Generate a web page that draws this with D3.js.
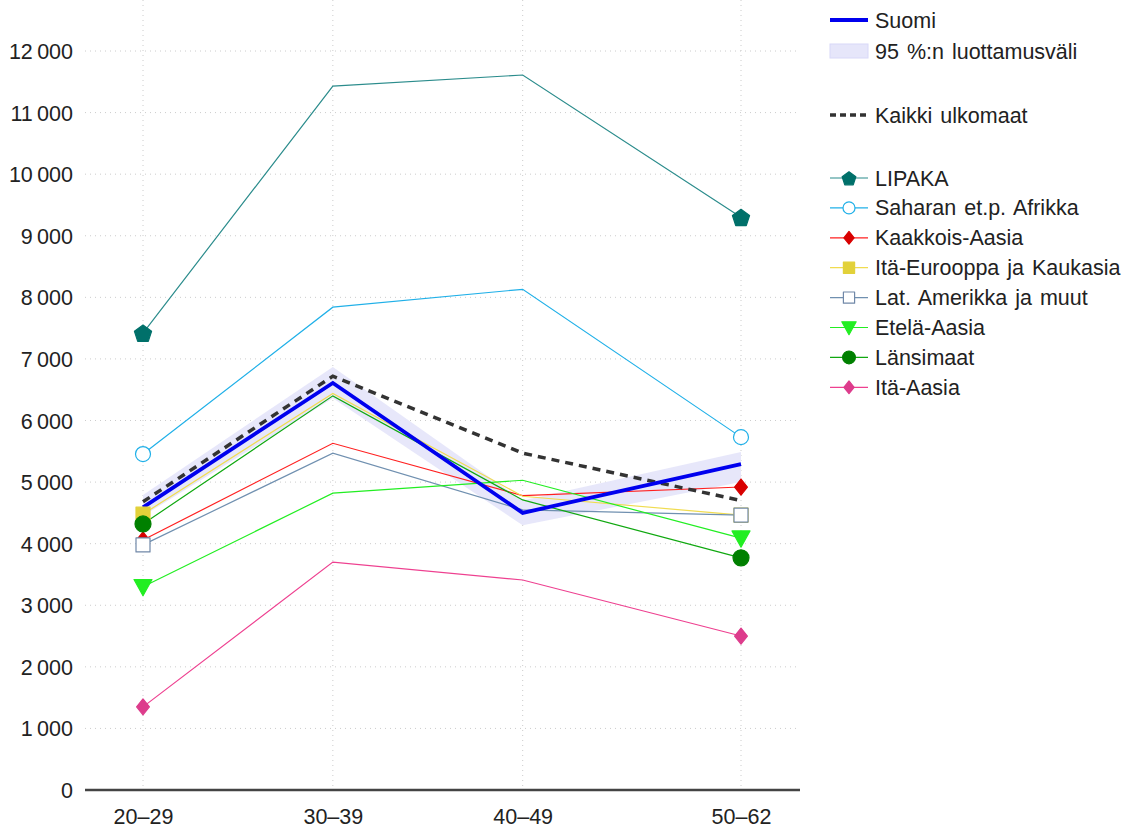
<!DOCTYPE html>
<html><head><meta charset="utf-8">
<script src="https://cdn.jsdelivr.net/npm/d3@7"></script>
<style>
body{margin:0;background:#fff;}
text{font-family:"Liberation Sans",Arial,sans-serif;fill:#222;}
</style></head>
<body><svg id="c" width="1141" height="832"></svg>
<script>
// ---- data ----
const ageGroups = ["20–29","30–39","40–49","50–62"];
const ageMid = [24.5, 34.5, 44.5, 56];
const yTickValues = [0,1000,2000,3000,4000,5000,6000,7000,8000,9000,10000,11000,12000];

const suomi = [4590, 6610, 4500, 5290];
const ciLow = [4450, 6360, 4300, 5000];
const ciHigh = [4790, 6870, 4700, 5490];
const kaikki = [4680, 6720, 5470, 4700];

const seriesNames = ["LIPAKA","Saharan et.p. Afrikka","Kaakkois-Aasia","Itä-Eurooppa ja Kaukasia","Lat. Amerikka ja muut","Etelä-Aasia","Länsimaat","Itä-Aasia"];
const lipaka   = [7420, 11430, 11610, 9300];
const saharan  = [5455, 7840, 8130, 5730];
const kaakkois = [4060, 5630, 4780, 4920];
const itaEur   = [4480, 6440, 4770, 4465];
const latAm    = [3980, 5470, 4550, 4465];
const etela    = [3300, 4820, 5030, 4090];
const lansi    = [4320, 6400, 4710, 3770];
const itaAasia = [1350, 3700, 3410, 2500];
const seriesValues = [lipaka, saharan, kaakkois, itaEur, latAm, etela, lansi, itaAasia];

// ---- styles ----
const FS = 21.5;
const styles = [
  {line:"#2b8c8c", fill:"#00706a", stroke:"#00706a", sym:"pent", size:9},
  {line:"#20b0e8", fill:"#fff", stroke:"#20b0e8", sym:"circle", size:7.5},
  {line:"#ff2020", fill:"#d80000", stroke:"#d80000", sym:"diamond", size:8},
  {line:"#f0dc50", fill:"#e2d13a", stroke:"#e2d13a", sym:"square", size:7},
  {line:"#7090b0", fill:"#fff", stroke:"#7088a8", sym:"square", size:7},
  {line:"#22ee22", fill:"#22ee22", stroke:"#22ee22", sym:"tri", size:9},
  {line:"#10a810", fill:"#008000", stroke:"#008000", sym:"circle", size:8},
  {line:"#ee4090", fill:"#dd3c8c", stroke:"#dd3c8c", sym:"diamond", size:8}
];

const svg = d3.select("#c");
const x = d3.scaleLinear().domain([24.5, 56]).range([143, 741]);
const y = d3.scaleLinear().domain([0, 12000]).range([790, 51]);
const plotL = 85, plotR = 800;

// grid
svg.append("g").selectAll("line").data(yTickValues.slice(1)).join("line")
  .attr("x1", plotL).attr("x2", plotR)
  .attr("y1", d=>y(d)).attr("y2", d=>y(d))
  .attr("stroke","#ccc").attr("stroke-width",1).attr("stroke-dasharray","1,4");
svg.append("g").selectAll("line").data(ageMid).join("line")
  .attr("x1", d=>x(d)).attr("x2", d=>x(d))
  .attr("y1", 0).attr("y2", 789)
  .attr("stroke","#ccc").attr("stroke-width",1).attr("stroke-dasharray","1,4");

// y axis labels
const fmt = v => d3.format(",")(v).replace(/,/g, "\u2009");
const yAxis = d3.axisLeft(y).tickValues(yTickValues).tickFormat(fmt).tickSize(0).tickPadding(0);
const yg = svg.append("g").attr("transform","translate(73,0)").call(yAxis);
yg.select(".domain").remove();
yg.selectAll("text").attr("font-size",FS).attr("fill","#222")
  .attr("font-family","'Liberation Sans',Arial,sans-serif").attr("dy","0.35em");

// x axis
const xAxis = d3.axisBottom(x).tickValues(ageMid).tickFormat((d,i)=>ageGroups[i]).tickSize(0).tickPadding(19);
const xg = svg.append("g").attr("transform","translate(0,790)").call(xAxis);
xg.select(".domain").remove();
xg.selectAll("text").attr("font-size",FS).attr("fill","#222")
  .attr("font-family","'Liberation Sans',Arial,sans-serif").attr("dy","0.71em");
svg.append("line").attr("x1",plotL).attr("x2",plotR).attr("y1",790).attr("y2",790)
  .attr("stroke","#444").attr("stroke-width",2.5);

// CI band
const area = d3.area().x((d,i)=>x(ageMid[i])).y0((d,i)=>y(ciLow[i])).y1((d,i)=>y(ciHigh[i]));
svg.append("path").datum(ciLow).attr("d", area).attr("fill","#e6e6fa").attr("opacity",0.95);

const line = d3.line().x((d,i)=>x(ageMid[i])).y(d=>y(d));

// series lines
seriesValues.forEach((vals,k)=>{
  svg.append("path").datum(vals).attr("d", line).attr("fill","none")
    .attr("stroke", styles[k].line).attr("stroke-width",1.2);
});
// kaikki ulkomaat
svg.append("path").datum(kaikki).attr("d", line).attr("fill","none")
  .attr("stroke","#333").attr("stroke-width",3.5).attr("stroke-dasharray","8,6");
// suomi
svg.append("path").datum(suomi).attr("d", line).attr("fill","none")
  .attr("stroke","#0000ee").attr("stroke-width",3.8);

function symPath(sym, s){
  if(sym==="pent"){
    const pts=[];
    for(let i=0;i<5;i++){const a=-Math.PI/2+i*2*Math.PI/5; pts.push([s*Math.cos(a), s*Math.sin(a)+1]);}
    return "M"+pts.map(p=>p.join(",")).join("L")+"Z";
  }
  if(sym==="diamond") return `M0,${-s}L${s*0.8},0L0,${s}L${-s*0.8},0Z`;
  if(sym==="square") return `M${-s},${-s}H${s}V${s}H${-s}Z`;
  if(sym==="tri") return `M${-s},${-s*0.8}H${s}L0,${s*1.0}Z`;
  return null;
}
function drawMarker(g, st, cx, cy, scale){
  const s = st.size*scale;
  if(st.sym==="circle"){
    g.append("circle").attr("cx",cx).attr("cy",cy).attr("r",s)
      .attr("fill",st.fill).attr("stroke",st.stroke).attr("stroke-width",1.2);
  } else {
    g.append("path").attr("d", symPath(st.sym, s)).attr("transform",`translate(${cx},${cy})`)
      .attr("fill",st.fill).attr("stroke",st.stroke).attr("stroke-width",1.2).attr("stroke-linejoin","round");
  }
}
// markers only at first and last
const mg = svg.append("g");
seriesValues.forEach((vals,k)=>{
  [0,3].forEach(i=>drawMarker(mg, styles[k], x(ageMid[i]), y(vals[i]), 1));
});

// legend
const lg = svg.append("g");
const lx0 = 830, lx1 = 868, tx = 875;
function ltext(yy, s){
  lg.append("text").attr("x",tx).attr("y",yy).attr("dy","0.35em").attr("font-size",FS)
    .attr("word-spacing", 2).text(s);
}
lg.append("line").attr("x1",lx0).attr("x2",lx1).attr("y1",20).attr("y2",20).attr("stroke","#0000ee").attr("stroke-width",3.8);
ltext(20, "Suomi");
lg.append("rect").attr("x",lx0).attr("y",44).attr("width",lx1-lx0).attr("height",14).attr("fill","#e6e6fa").attr("stroke","#d8d8f8");
ltext(51, "95 %:n luottamusväli");
lg.append("line").attr("x1",lx0).attr("x2",lx1).attr("y1",115).attr("y2",115).attr("stroke","#333").attr("stroke-width",3.5).attr("stroke-dasharray","6,4");
ltext(115, "Kaikki ulkomaat");
seriesNames.forEach((name,k)=>{
  const ly = 178 + k*29.9;
  lg.append("line").attr("x1",lx0).attr("x2",lx1).attr("y1",ly).attr("y2",ly).attr("stroke",styles[k].line).attr("stroke-width",1.2);
  drawMarker(lg, styles[k], (lx0+lx1)/2, ly, 0.8);
  ltext(ly, name);
});
</script></body></html>
